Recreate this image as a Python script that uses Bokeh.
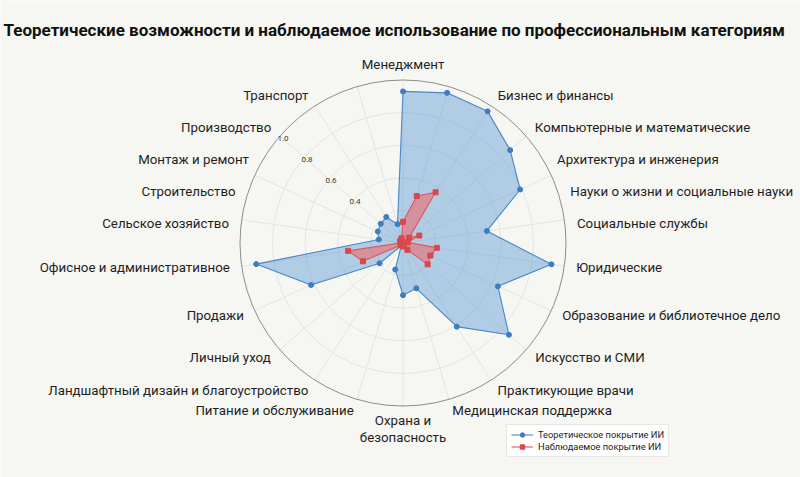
import numpy as np
from bokeh.plotting import figure
from bokeh.models import ColumnDataSource, Legend, LegendItem, Range1d, Label
from bokeh.embed import file_html
from bokeh.resources import INLINE
from bokeh.core.properties import value

# ---------------- data ----------------
title_text = "Теоретические возможности и наблюдаемое использование по профессиональным категориям"
categories = [
    "Менеджмент", "Бизнес и финансы", "Компьютерные и математические",
    "Архитектура и инженерия", "Науки о жизни и социальные науки",
    "Социальные службы", "Юридические", "Образование и библиотечное дело",
    "Искусство и СМИ", "Практикующие врачи", "Медицинская поддержка",
    "Охрана и\nбезопасность", "Питание и обслуживание",
    "Ландшафтный дизайн и благоустройство", "Личный уход", "Продажи",
    "Офисное и административное", "Сельское хозяйство", "Строительство",
    "Монтаж и ремонт", "Производство", "Транспорт",
]
theoretical = [0.93, 0.96, 0.96, 0.87, 0.79, 0.52, 0.92, 0.64, 0.86, 0.61, 0.29,
               0.32, 0.17, 0.02, 0.19, 0.62, 0.91, 0.15, 0.17, 0.18, 0.19, 0.12]
observed = [0.13, 0.30, 0.37, 0.05, 0.11, 0.03, 0.21, 0.185, 0.20, 0.05, 0.02,
            0.02, 0.01, 0.01, 0.02, 0.27, 0.34, 0.01, 0.02, 0.02, 0.02, 0.03]
grid_levels = [0.2, 0.4, 0.6, 0.8]
tick_values = [0.4, 0.6, 0.8, 1.0]
tick_labels = ["0.4", "0.6", "0.8", "1.0"]
series_names = ["Теоретическое покрытие ИИ", "Наблюдаемое покрытие ИИ"]

# ---------------- layout ----------------
W, H = 800, 477
PX = 163.0              # pixels per unit radius
CX, CY = 402.5, 242.5   # centre in figure pixels (from top-left)
FONT = "Roboto"
BG = "#f6f6f3"

p = figure(width=W, height=H, output_backend="svg", toolbar_location=None,
           x_range=Range1d(-CX / PX, (W - CX) / PX),
           y_range=Range1d(-(H - CY) / PX, CY / PX),
           min_border=0, outline_line_color=None)
p.axis.visible = False
p.grid.visible = False
p.background_fill_color = BG
p.border_fill_color = BG

N = len(categories)
theta = np.arange(N) * 2 * np.pi / N   # clockwise from top
sx, cy_ = np.sin(theta), np.cos(theta)

# grid
p.circle(x=[0] * len(grid_levels), y=[0] * len(grid_levels), radius=grid_levels,
         fill_color=None, line_color="#e2e2e2", line_width=0.9)
p.segment(x0=[0] * N, y0=[0] * N, x1=sx, y1=cy_, line_color="#e2e2e2", line_width=0.9)
p.circle(x=[0], y=[0], radius=[1.0], fill_color=None, line_color="#8c8c8c", line_width=1)

# radial tick labels
ta = np.deg2rad(-49)
p.text(x=[v * 0.975 * np.sin(ta) for v in tick_values],
       y=[v * 0.975 * np.cos(ta) for v in tick_values],
       text=tick_labels, text_font=value(FONT), text_font_size="8px",
       text_color="#3a3a3a", text_align="center", text_baseline="middle")

def closed(vals):
    v = np.array(vals)
    xs = np.append(v * sx, v[0] * sx[0])
    ys = np.append(v * cy_, v[0] * cy_[0])
    return xs, ys

# theoretical
bx, by = closed(theoretical)
p.patch(bx, by, fill_color="#5b9bd5", fill_alpha=0.45, line_color=None)
lb = p.line(bx, by, line_color="#4a86c8", line_width=1.1)
sb = p.scatter(np.array(theoretical) * sx, np.array(theoretical) * cy_,
               marker="circle", size=5, fill_color="#3d7cc0", line_color="#3d7cc0")

# observed
rx, ry = closed(observed)
p.patch(rx, ry, fill_color="#f26065", fill_alpha=0.55, line_color=None)
lr = p.line(rx, ry, line_color="#e0575b", line_width=1.1)
sr = p.scatter(np.array(observed) * sx, np.array(observed) * cy_,
               marker="square", size=5, fill_color="#d9484c", line_color="#d9484c")

# category labels
LR = 175 / PX
GAP = 32 / PX
TOP_R = 1.05
top_center = TOP_R + 8 / PX

def place(idx_list, sign):
    prev = top_center
    xs, ys = [], []
    for k in idx_list:
        y_nat = LR * np.cos(theta[k])
        y = min(y_nat, prev - GAP) if y_nat > 0 else y_nat
        prev = y
        xs.append(sign * np.sqrt(max(LR ** 2 - y ** 2, 0.0)))
        ys.append(y)
    return xs, ys

right_idx = list(range(1, N // 2))
left_idx = list(range(N - 1, N // 2, -1))
rxl, ryl = place(right_idx, 1)
lxl, lyl = place(left_idx, -1)
lbl_kw = dict(text_font=value(FONT), text_font_size="13.3px", text_color="#1e1e1e")
p.text(x=rxl, y=ryl, text=[categories[k] for k in right_idx],
       text_align="left", text_baseline="middle", **lbl_kw)
p.text(x=lxl, y=lyl, text=[categories[k] for k in left_idx],
       text_align="right", text_baseline="middle", **lbl_kw)
p.text(x=[0], y=[TOP_R], text=[categories[0]], text_align="center",
       text_baseline="bottom", **lbl_kw)
p.text(x=[0], y=[-1.04], text=[categories[N // 2]], text_align="center",
       text_baseline="top", text_line_height=1.15, **lbl_kw)

# title
p.add_layout(Label(x=3, y=H - 29, x_units="screen", y_units="screen",
                   text=title_text, text_font=FONT, text_font_size="17px",
                   text_font_style="bold", text_color="#111111",
                   text_baseline="middle", text_align="left"))

legend = Legend(items=[LegendItem(label=series_names[0], renderers=[lb, sb]),
                       LegendItem(label=series_names[1], renderers=[lr, sr])],
                location=(506, 20), label_text_font=FONT, label_text_font_size="9.3px",
                label_text_color="#222222", glyph_height=11, glyph_width=22,
                label_height=11, label_standoff=5, spacing=1, padding=4, margin=0,
                border_line_color="#cfcfcf", border_line_width=1,
                background_fill_color="#ffffff", background_fill_alpha=0.9)
p.add_layout(legend)

open("out.html", "w").write(file_html(p, INLINE))
